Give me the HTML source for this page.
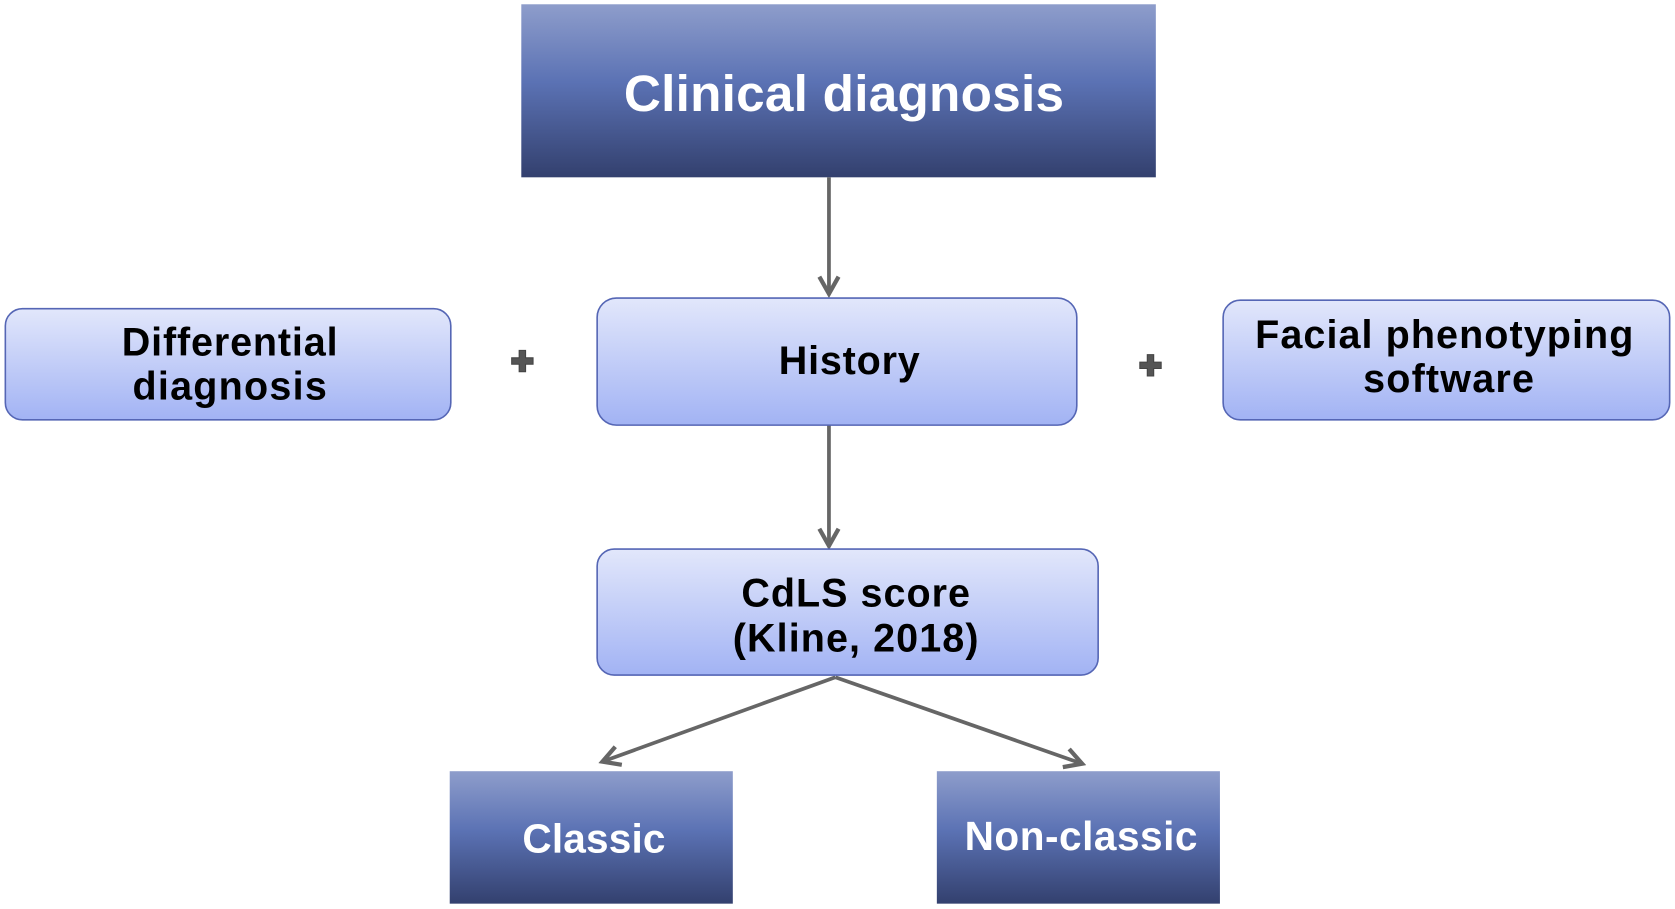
<!DOCTYPE html>
<html><head><meta charset="utf-8"><style>
html,body{margin:0;padding:0;background:#fff;overflow:hidden}
svg{display:block}
text{font-family:"Liberation Sans",Arial,sans-serif;font-weight:bold;text-anchor:middle}
</style></head><body>
<svg width="1675" height="909" viewBox="0 0 1568 851" preserveAspectRatio="none" xmlns="http://www.w3.org/2000/svg">
<defs>
<linearGradient id="dk" x1="0" y1="0" x2="0" y2="1">
<stop offset="0" stop-color="#8e9dcb"/><stop offset="0.45" stop-color="#5b72b4"/><stop offset="1" stop-color="#33406e"/>
</linearGradient>
<linearGradient id="lt" x1="0" y1="0" x2="0" y2="1">
<stop offset="0" stop-color="#e2e7fb"/><stop offset="1" stop-color="#a2b3f4"/>
</linearGradient>
<marker id="ah" markerWidth="24" markerHeight="24" refX="20" refY="12" orient="auto" markerUnits="userSpaceOnUse">
<path d="M4,3 L20,12 L4,21" fill="none" stroke="#666" stroke-width="4"/>
</marker>
</defs>
<rect x="488" y="4" width="594" height="162" fill="url(#dk)"/>
<text x="790" y="104" font-size="48" fill="#fff" textLength="412">Clinical diagnosis</text>

<line x1="776" y1="166" x2="776" y2="275" stroke="#666" stroke-width="3.5" marker-end="url(#ah)"/>
<line x1="776" y1="398" x2="776" y2="511" stroke="#666" stroke-width="3.5" marker-end="url(#ah)"/>
<line x1="782" y1="634" x2="564" y2="713" stroke="#666" stroke-width="3.5" marker-end="url(#ah)"/>
<line x1="782" y1="634" x2="1013" y2="715" stroke="#666" stroke-width="3.5" marker-end="url(#ah)"/>

<rect x="5" y="289" width="417" height="104" rx="16" fill="url(#lt)" stroke="#5566b5" stroke-width="1.5"/>
<text x="215" y="333" font-size="37" textLength="202">Differential</text>
<text x="215" y="374" font-size="37" textLength="182">diagnosis</text>

<rect x="559" y="279" width="449" height="119" rx="18" fill="url(#lt)" stroke="#5566b5" stroke-width="1.5"/>
<text x="795" y="350" font-size="37" textLength="132">History</text>

<rect x="1145" y="281" width="418" height="112" rx="16" fill="url(#lt)" stroke="#5566b5" stroke-width="1.5"/>
<text x="1352" y="326" font-size="37" textLength="354">Facial phenotyping</text>
<text x="1356" y="367" font-size="37" textLength="160">software</text>

<rect x="559" y="514" width="469" height="118" rx="16" fill="url(#lt)" stroke="#5566b5" stroke-width="1.5"/>
<text x="801" y="568" font-size="37" textLength="214">CdLS score</text>
<text x="801" y="610" font-size="37" textLength="230">(Kline, 2018)</text>

<g fill="#555" stroke="#444" stroke-width="1">
<path d="M486,328h6v7h7v6h-7v7h-6v-7h-7v-6h7z"/>
<path d="M1074,332h6v7h7v6h-7v7h-6v-7h-7v-6h7z"/>
</g>

<rect x="421" y="722" width="265" height="124" fill="url(#dk)"/>
<text x="556" y="798" font-size="38" fill="#fff" textLength="134">Classic</text>
<rect x="877" y="722" width="265" height="124" fill="url(#dk)"/>
<text x="1012" y="796" font-size="38" fill="#fff" textLength="218">Non-classic</text>
</svg>
</body></html>
